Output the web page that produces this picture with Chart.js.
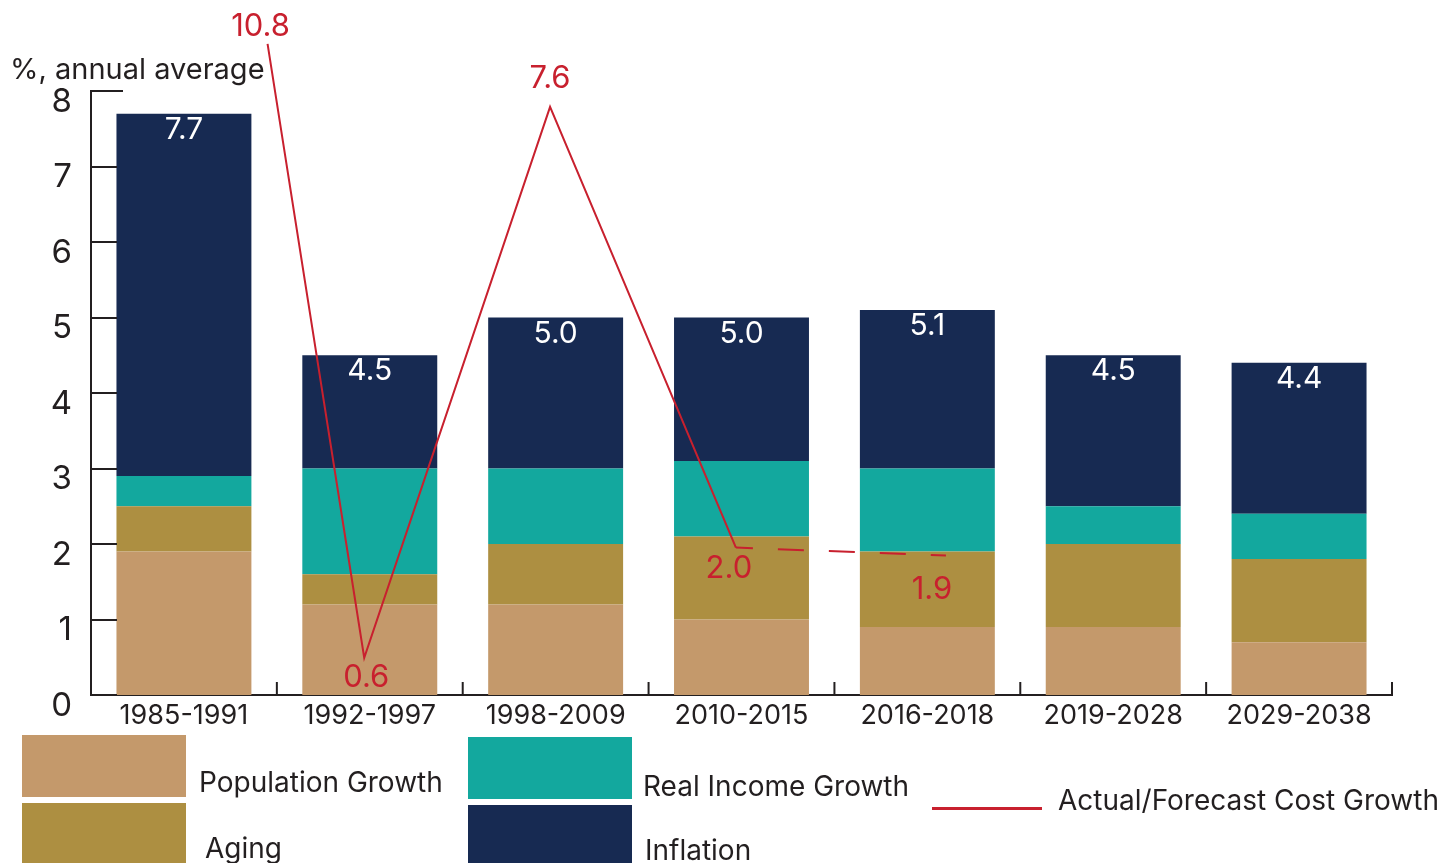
<!DOCTYPE html>
<html>
<head>
<meta charset="utf-8">
<script src="https://cdn.jsdelivr.net/npm/chart.js@4.4.1/dist/chart.umd.min.js"></script>
<style>
  html,body{margin:0;padding:0;background:#fff;}
  #wrap{position:relative;width:1452px;height:863px;overflow:hidden;font-family:Inter,"Liberation Sans",sans-serif;color:#231F20;}
  canvas{position:absolute;left:0;top:0;}
  .t{position:absolute;white-space:nowrap;line-height:1;}
  .sw{position:absolute;}
</style>
</head>
<body>
<div id="wrap">
  <canvas id="c" width="1452" height="863"></canvas>
  <div class="t" style="left:10px;top:54px;font-size:29px;">%, annual average</div>
  <div class="sw" style="left:22px;top:735px;width:164px;height:62px;background:#C4996B"></div>
  <div class="sw" style="left:22px;top:803px;width:164px;height:60px;background:#AD8F41"></div>
  <div class="sw" style="left:468px;top:737px;width:164px;height:62px;background:#13A89E"></div>
  <div class="sw" style="left:468px;top:805px;width:164px;height:58px;background:#172A52"></div>
  <div class="sw" style="left:932px;top:807px;width:110px;height:2.5px;background:#C8202E"></div>
  <div class="t" style="left:199px;top:768px;font-size:28px;">Population Growth</div>
  <div class="t" style="left:205px;top:834px;font-size:28px;">Aging</div>
  <div class="t" style="left:643px;top:772px;font-size:28px;">Real Income Growth</div>
  <div class="t" style="left:645px;top:836px;font-size:28px;">Inflation</div>
  <div class="t" style="left:1058px;top:786px;font-size:28px;">Actual/Forecast Cost Growth</div>
</div>
<script>
const categories = ['1985-1991','1992-1997','1998-2009','2010-2015','2016-2018','2019-2028','2029-2038'];
const populationGrowth = [1.9, 1.2, 1.2, 1.0, 0.9, 0.9, 0.7];
const aging            = [0.6, 0.4, 0.8, 1.1, 1.0, 1.1, 1.1];
const realIncomeGrowth = [0.4, 1.4, 1.0, 1.0, 1.1, 0.5, 0.6];
const inflation        = [4.8, 1.5, 2.0, 1.9, 2.1, 2.0, 2.0];
const totals           = [7.7, 4.5, 5.0, 5.0, 5.1, 4.5, 4.4];
const costGrowth       = [10.8, 0.6, 7.6, 2.0, 1.9];
const costGrowthAt     = [0.45, 0.97, 1.97, 2.97, 4.1]; // category position of each point
const yTicks = [0,1,2,3,4,5,6,7,8];

const FONT = 'Inter, "Liberation Sans", sans-serif';
const INK = '#231F20';
const RED = '#C8202E';
const LINE_CAP = 8.4; // off-scale values are drawn at the top (broken scale)
// label placement style (pixel offsets from each line point)
const lineLabelDx = [-7, 2, 0, -7, -14];
const lineLabelDy = [-17, 20, -28, 21, 34];

const chartAxes = {
  id: 'chartAxes',
  afterDatasetsDraw(chart) {
    const ctx = chart.ctx, a = chart.chartArea;
    const y = chart.scales.y, x = chart.scales.x;
    ctx.save();
    ctx.strokeStyle = INK; ctx.lineWidth = 2;
    yTicks.forEach(v => {
      const py = Math.round(y.getPixelForValue(v));
      ctx.beginPath(); ctx.moveTo(a.left, py); ctx.lineTo(a.left + (v === 8 ? 32 : 26), py); ctx.stroke();
    });
    for (let i = 1; i <= categories.length; i++) {
      const px = i < categories.length ? (x.getPixelForTick(i-1) + x.getPixelForTick(i)) / 2 : a.right;
      ctx.beginPath(); ctx.moveTo(px, a.bottom); ctx.lineTo(px, a.bottom - 13); ctx.stroke();
    }
    ctx.fillStyle = '#fff'; ctx.font = '30px ' + FONT; ctx.textAlign = 'center'; ctx.textBaseline = 'middle';
    totals.forEach((t, i) => {
      ctx.fillText(t.toFixed(1), x.getPixelForTick(i), y.getPixelForValue(t) + 16);
    });
    const meta = chart.getDatasetMeta(4);
    ctx.fillStyle = RED; ctx.font = '31px ' + FONT;
    meta.data.forEach((pt, i) => {
      ctx.fillText(costGrowth[i].toFixed(1), pt.x + lineLabelDx[i], pt.y + lineLabelDy[i]);
    });
    ctx.restore();
  }
};

new Chart(document.getElementById('c'), {
  type: 'bar',
  data: {
    labels: categories,
    datasets: [
      {label:'Population Growth', data: populationGrowth, backgroundColor:'#C4996B', xAxisID:'x', yAxisID:'y', order:2},
      {label:'Aging', data: aging, backgroundColor:'#AD8F41', xAxisID:'x', yAxisID:'y', order:2},
      {label:'Real Income Growth', data: realIncomeGrowth, backgroundColor:'#13A89E', xAxisID:'x', yAxisID:'y', order:2},
      {label:'Inflation', data: inflation, backgroundColor:'#172A52', xAxisID:'x', yAxisID:'y', order:2},
      {type:'line', label:'Actual/Forecast Cost Growth', xAxisID:'xLine', yAxisID:'yLine',
       data: costGrowth.map((v,i) => ({x: costGrowthAt[i], y: Math.min(v, LINE_CAP)})),
       borderColor: RED, borderWidth: 2, pointRadius: 0, tension: 0, clip: false, order: 1,
       segment: {
         borderDash: c => c.p0DataIndex >= 3 ? [26, 25] : undefined,
         borderDashOffset: c => c.p0DataIndex >= 3 ? 9 : 0
       }}
    ]
  },
  options: {
    responsive: false,
    animation: false,
    events: [],
    layout: { padding: { top: 91, right: 60, left: 0, bottom: 0 } },
    plugins: { legend: {display:false}, tooltip: {enabled:false} },
    datasets: { bar: { barPercentage: 0.726, categoryPercentage: 1.0, grouped: false } },
    scales: {
      x: {
        type: 'category', stacked: true, offset: true,
        grid: {display:false, drawTicks:false},
        border: {display:true, color: INK, width: 2},
        ticks: {color: INK, font: {family: FONT, size: 27}, padding: 5, maxRotation: 0, autoSkip: false},
        afterFit: s => { s.height = 168; }
      },
      y: {
        type: 'linear', stacked: true, min: 0, max: 8,
        grid: {display:false, drawTicks:false},
        border: {display:true, color: INK, width: 2},
        ticks: {stepSize: 1, color: INK, font: {family: FONT, size: 33}, padding: 19, labelOffset: 11},
        afterFit: s => { s.width = 91; }
      },
      xLine: { type:'linear', display:false, offset:false, min:-0.5, max:6.5, grid:{offset:false} },
      yLine: { type:'linear', display:false, min:0.127, max:7.802 }
    }
  },
  plugins: [chartAxes]
});
</script>
</body>
</html>
